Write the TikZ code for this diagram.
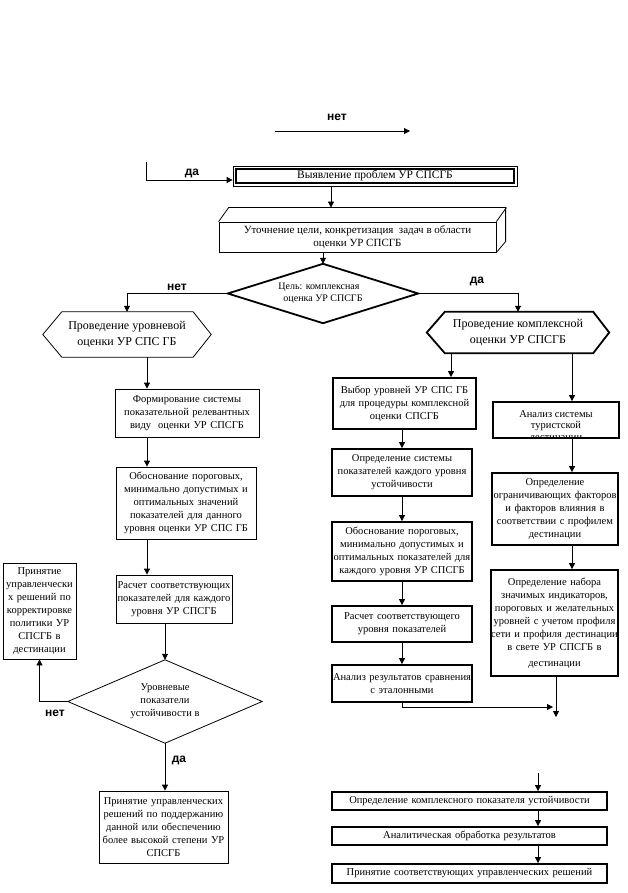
\documentclass[tikz,border=0pt]{standalone}
\usepackage{fontspec}
\setmainfont{Liberation Serif}
\newfontfamily\sansb{Liberation Sans}
\usetikzlibrary{arrows.meta,calc}
\newcommand\boxfont{\fontsize{10.5}{13}\selectfont}
\newcommand\hexfont{\fontsize{12}{16}\selectfont}
\newcommand\labfont{\sansb\bfseries\fontsize{12}{14}\selectfont}
\tikzset{
  thinln/.style={line width=0.8pt},
  thickln/.style={line width=1.8pt},
  arr/.style={line width=0.8pt, -{Triangle[length=6pt,width=6pt]}},
  tbox/.style={draw, rectangle, line width=0.8pt, inner xsep=-10pt, inner ysep=1pt, align=center, font=\boxfont},
  kbox/.style={tbox, line width=1.8pt},
  plain/.style={inner sep=0pt, align=center, font=\boxfont},
  lab/.style={inner sep=0pt, font=\labfont},
}
\begin{document}
\begin{tikzpicture}[x=1pt,y=-1pt]
\useasboundingbox (0,0) rectangle (627,893);

% helper columns
\coordinate (xa) at (331,0);
\coordinate (xl) at (147,0);
\coordinate (xr) at (402,0);
\coordinate (xr1) at (451,0);
\coordinate (xr2) at (572,0);
\coordinate (xc) at (556,0);
\coordinate (xb) at (538,0);

% top free arrows
\coordinate (t1) at (275,131);
\coordinate (t2) at (410,131);
\draw[arr] (t1) -- (t2);
\node[lab] (net1) at (337,117) {нет};

\node[tbox, minimum width=284pt, minimum height=20pt, font=\fontsize{11.5}{13}\selectfont] (vy) at (375,176) {Выявление проблем УР СПСГБ};
\draw[line width=1.6pt] ($(vy.north west)+(3.5,3.5)$) rectangle ($(vy.south east)+(-3.5,-3.5)$);

\coordinate (l0) at (146,162);
\draw[arr] (l0) |- ($(vy.west)+(0,4)$);
\node[lab] (da1) at (192,173) {да};

% 3D box
\node[tbox, minimum width=277pt, minimum height=30pt, font=\fontsize{11}{12.5}\selectfont] (ut) at (357.5,237) {Уточнение цели, конкретизация\ \ задач в области\\оценки УР СПСГБ};
\coordinate (uttop) at ($(ut.north)+(10,-14)$);
\draw[thinln] (ut.north west) -- ++(10,-14) -- ++(277,0) -- ++(0,34) -- (ut.south east);
\draw[thinln] (ut.north east) -- ++(10,-14);
\draw[arr] (vy.south -| xa) -- (uttop -| xa);

% decision 1
\node[plain, minimum width=190pt, minimum height=59pt, font=\fontsize{10}{12}\selectfont] (d1) at (323,293.5) {\hspace*{-8pt}Цель: комплексная\\оценка УР СПСГБ};
\draw[thickln] (d1.west) -- (d1.north) -- (d1.east) -- (d1.south) -- cycle;
\draw[arr] (ut.south -| d1.north) -- (d1.north);

% hexagons
\node[plain, minimum width=168pt, minimum height=45pt, font=\hexfont] (hl) at (127,334.5) {Проведение уровневой\\оценки УР СПС ГБ};
\draw[thinln] (hl.west) -- ($(hl.north west)+(19,0)$) -- ($(hl.north east)+(-18,0)$) -- (hl.east) -- ($(hl.south east)+(-18,0)$) -- ($(hl.south west)+(19,0)$) -- cycle;
\node[plain, minimum width=182pt, minimum height=41pt, font=\hexfont] (hr) at (518,332.5) {Проведение комплексной\\оценки УР СПСГБ};
\draw[thickln] (hr.west) -- ($(hr.north west)+(18,0)$) -- ($(hr.north east)+(-16,0)$) -- (hr.east) -- ($(hr.south east)+(-16,0)$) -- ($(hr.south west)+(18,0)$) -- cycle;

\draw[arr] (d1.west) -| (hl.north);
\draw[arr] (d1.east) -| (hr.north);
\node[lab] (net2) at (177,287) {нет};
\node[lab] (da2) at (477,281) {да};

% left column
\node[tbox, minimum width=144pt, minimum height=48pt, text width=164pt] (fL1) at (187,413) {Формирование системы\\показательной релевантных\\виду\ \ оценки УР СПСГБ};
\node[tbox, minimum width=140pt, minimum height=72pt, text width=160pt] (fL2) at (186,503) {Обоснование пороговых,\\минимально допустимых и\\оптимальных значений\\показателей для данного\\уровня оценки УР СПС ГБ};
\node[tbox, minimum width=116pt, minimum height=48pt, text width=136pt] (fL3) at (174,599) {Расчет соответствующих\\показателей для каждого\\уровня УР СПСГБ};
\node[plain, minimum width=194pt, minimum height=83pt] (dL) at (165,701.5) {Уровневые\\показатели\\устойчивости в};
\draw[thinln] (dL.west) -- (dL.north) -- (dL.east) -- (dL.south) -- cycle;
\node[tbox, minimum width=73pt, minimum height=96pt, text width=93pt] (pL) at (39.5,611) {Принятие\\управленчески\\х решений по\\корректировке\\политики УР\\СПСГБ в\\дестинации};
\node[tbox, minimum width=129pt, minimum height=72pt, text width=149pt] (pB) at (163.5,827) {Принятие управленческих\\решений по поддержанию\\данной или обеспечению\\более высокой степени УР\\СПСГБ};

\draw[arr] (hl.south -| xl) -- (fL1.north -| xl);
\draw[arr] (fL1.south -| xl) -- (fL2.north -| xl);
\draw[arr] (fL2.south -| xl) -- (fL3.north -| xl);
\draw[arr] (fL3.south -| dL.north) -- (dL.north);
\draw[arr] (dL.west) -| (pL.south);
\draw[arr] (dL.south) -- (dL.south |- pB.north);
\node[lab] (net3) at (55,713) {нет};
\node[lab] (da3) at (179,760) {да};

% right column R
\node[kbox, minimum width=143pt, minimum height=51pt, text width=163pt] (r1) at (404.5,403.5) {Выбор уровней УР СПС ГБ\\для процедуры комплексной\\оценки СПСГБ};
\node[kbox, minimum width=140pt, minimum height=47pt, text width=160pt] (r2) at (402,472.5) {Определение системы\\показателей каждого уровня\\устойчивости};
\node[kbox, minimum width=140pt, minimum height=59pt, text width=160pt] (r3) at (402,551.5) {Обоснование пороговых,\\минимально допустимых и\\оптимальных показателей для\\каждого уровня УР СПСГБ};
\node[kbox, minimum width=140pt, minimum height=36pt, text width=160pt] (r4) at (402,624) {Расчет соответствующего\\уровня показателей};
\node[kbox, minimum width=140pt, minimum height=37pt, text width=160pt] (r5) at (402,683.5) {Анализ результатов сравнения\\с эталонными};

\draw[arr] (hr.south -| xr1) -- (r1.north -| xr1);
\draw[arr] (r1.south -| xr) -- (r2.north -| xr);
\draw[arr] (r2.south -| xr) -- (r3.north -| xr);
\draw[arr] (r3.south -| xr) -- (r4.north -| xr);
\draw[arr] (r4.south -| xr) -- (r5.north -| xr);

% right column C
\node[kbox, minimum width=126pt, minimum height=36pt] (c1) at (556,420) {};
\begin{scope}
  \clip (c1.south west) rectangle (c1.north east);
  \node[plain, anchor=north, font=\fontsize{10.5}{11.5}\selectfont] (c1t) at ($(c1.north)+(0,9)$) {Анализ системы\\туристской\\дестинации};
\end{scope}
\node[kbox, minimum width=126pt, minimum height=72pt, text width=146pt] (c2) at (555,509) {Определение\\ограничивающих факторов\\и факторов влияния в\\соответствии с профилем\\дестинации};
\node[kbox, minimum width=127pt, minimum height=106pt, text width=147pt] (c3) at (554.5,623) {Определение набора\\значимых индикаторов,\\пороговых и желательных\\уровней с учетом профиля\\сети и профиля дестинации\\в свете УР СПСГБ в\\[3pt]дестинации};

\draw[arr] (hr.south -| xr2) -- (c1.north -| xr2);
\draw[arr] (c1.south -| xr2) -- (c2.north -| xr2);
\draw[arr] (c2.south -| xr2) -- (c3.north -| xr2);

\coordinate (mj) at (553,707);
\coordinate (mk) at (556,717);
\draw[arr] (r5.south -| xr) |- (mj);
\draw[arr] (c3.south -| xc) -- (mk);

% bottom
\node[kbox, minimum width=275pt, minimum height=18pt, text width=295pt] (b1) at (469.5,801) {Определение комплексного показателя устойчивости};
\node[kbox, minimum width=275pt, minimum height=18pt, text width=295pt] (b2) at (469.5,836) {Аналитическая обработка результатов};
\node[kbox, minimum width=275pt, minimum height=19pt, text width=295pt] (b3) at (469.5,873.5) {Принятие соответствующих управленческих решений};

\coordinate (bt) at (538,773);
\draw[arr] (bt) -- (b1.north -| bt);
\draw[arr] (b1.south -| xb) -- (b2.north -| xb);
\draw[arr] (b2.south -| xb) -- (b3.north -| xb);
\end{tikzpicture}
\end{document}
